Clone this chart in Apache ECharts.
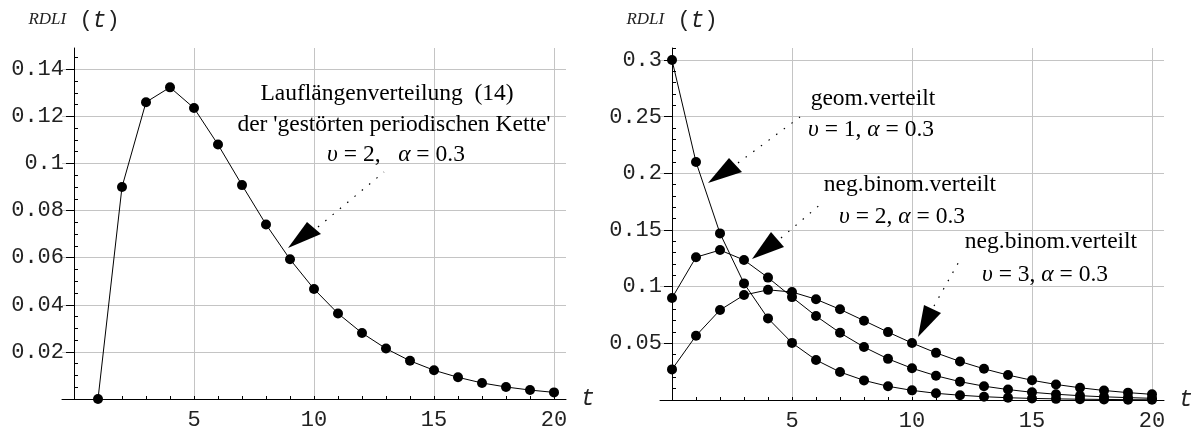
<!DOCTYPE html>
<html>
<head>
<meta charset="utf-8">
<script src="https://cdn.jsdelivr.net/npm/echarts@6/dist/echarts.min.js"></script>
<style>html,body{margin:0;padding:0;background:#fff}#c{width:1196px;height:428px}</style>
</head>
<body>
<div id="c"></div>
<script>
// ---- data ----
var tLeft = [1,2,3,4,5,6,7,8,9,10,11,12,13,14,15,16,17,18,19,20];
var rdliLeft = [0, 0.09, 0.126, 0.1323, 0.1235, 0.1080, 0.0908, 0.0741, 0.0593, 0.0467,
                0.0363, 0.0280, 0.0214, 0.0162, 0.0122, 0.0092, 0.0068, 0.0051, 0.0038, 0.0028];
var tRight = [0,1,2,3,4,5,6,7,8,9,10,11,12,13,14,15,16,17,18,19,20];
var geomV1 = [0.3, 0.21, 0.147, 0.1029, 0.0720, 0.0504, 0.0353, 0.0247, 0.0173, 0.0121, 0.0085,
              0.0059, 0.0042, 0.0029, 0.0020, 0.0014, 0.0010, 0.0007, 0.0005, 0.0003, 0.0002];
var negBinV2 = [0.09, 0.126, 0.1323, 0.1235, 0.1080, 0.0908, 0.0741, 0.0593, 0.0467, 0.0363, 0.0280,
                0.0214, 0.0162, 0.0122, 0.0092, 0.0068, 0.0051, 0.0038, 0.0028, 0.0021, 0.0015];
var negBinV3 = [0.027, 0.0567, 0.0794, 0.0926, 0.0972, 0.0953, 0.0889, 0.0800, 0.0700, 0.0599, 0.0503,
                0.0416, 0.0340, 0.0275, 0.0220, 0.0174, 0.0137, 0.0108, 0.0084, 0.0065, 0.0050];
var xTickLabels = [5, 10, 15, 20];
var yTickLabelsLeft = [0.02, 0.04, 0.06, 0.08, 0.1, 0.12, 0.14];
var yTickLabelsRight = [0.05, 0.1, 0.15, 0.2, 0.25, 0.3];

function pairs(xs, ys){ return xs.map(function(x,i){ return [x, ys[i]]; }); }
var intTicks = []; for (var k=1;k<=20;k++) intTicks.push(k);
var minorLeft = []; for (var k=1;k<=29;k++){ if (k%4) minorLeft.push(+(k*0.005).toFixed(3)); }
var minorRight = []; for (var k=1;k<=31;k++){ if (k%5) minorRight.push(+(k*0.01).toFixed(2)); }

var MONO = "'Liberation Mono', monospace";
var SERIF = "'Liberation Serif', 'Times New Roman', serif";
var XMIN = -0.5, XMAX = 20.5;   // plot range; y axis crosses at t = 0
var PX_PER_T = 24;              // grid width 504 / 21 units

function xAxes(grid){
  return [
    { gridIndex: grid, type:'value', min:XMIN, max:XMAX, position:'bottom',
      axisLine:{show:true, onZero:false, lineStyle:{color:'#000', width:1}},
      axisTick:{show:true, inside:true, length:3, customValues:intTicks, lineStyle:{color:'#000'}},
      axisLabel:{show:true, customValues:xTickLabels, margin:10, color:'#222', fontFamily:MONO, fontSize:22},
      splitLine:{show:false},
      name:'t', nameLocation:'end', nameGap:15, nameMoveOverlap:false,
      nameTextStyle:{fontFamily:MONO, fontStyle:'italic', fontSize:23, color:'#222', verticalAlign:'middle', align:'left'}
    },
    { gridIndex: grid, type:'value', min:XMIN, max:XMAX, position:'bottom',
      axisLine:{show:false, onZero:false},
      axisTick:{show:false, customValues:xTickLabels},
      axisLabel:{show:false},
      splitLine:{show:true, lineStyle:{color:'#c4c4c4', width:1}}
    }
  ];
}
function yAxes(grid, max, labels, minors){
  var off = XMIN * PX_PER_T; // shift axis from grid edge to t = 0
  return [
    { gridIndex: grid, type:'value', min:0, max:max, position:'left', offset:off,
      axisLine:{show:true, onZero:false, lineStyle:{color:'#000', width:1}},
      axisTick:{show:true, inside:false, length:8, customValues:labels, lineStyle:{color:'#000'}},
      axisLabel:{show:true, customValues:labels, margin:10, color:'#222', fontFamily:MONO, fontSize:22},
      splitLine:{show:true, lineStyle:{color:'#c4c4c4', width:1}},
      name:'{s|RDLI}{m| (}{t|t}{m|)}', nameLocation:'end', nameGap:16, nameMoveOverlap:false,
      nameTextStyle:{ align:'center', verticalAlign:'bottom',
        rich:{ s:{fontFamily:SERIF, fontStyle:'italic', fontSize:17, color:'#222', padding:[0,0,2,0]},
               m:{fontFamily:MONO, fontSize:22, color:'#222'},
               t:{fontFamily:MONO, fontStyle:'italic', fontSize:23, color:'#222'} } }
    },
    { gridIndex: grid, type:'value', min:0, max:max, position:'left', offset:off,
      axisLine:{show:false, onZero:false},
      axisTick:{show:true, inside:true, length:4, customValues:minors, lineStyle:{color:'#000'}},
      axisLabel:{show:false}, splitLine:{show:false}
    }
  ];
}
function lineSeries(xi, yi, data){
  return { type:'line', xAxisIndex:xi, yAxisIndex:yi, data:data, symbol:'circle', symbolSize:10,
    showAllSymbol:true, clip:false, itemStyle:{color:'#000'}, lineStyle:{color:'#000', width:1}, z:5, silent:true };
}

var chart = echarts.init(document.getElementById('c'), null, {renderer:'canvas'});

function txt(x, y, text, size){
  return { type:'text', x:x, y:y, z:10, silent:true,
    style:{ text:text, fill:'#000', font: size + 'px ' + SERIF, align:'center', verticalAlign:'middle',
      rich:{ i:{fontFamily:SERIF, fontStyle:'italic', fontSize:size, fill:'#000'},
             n:{fontFamily:SERIF, fontSize:size, fill:'#000'} } } };
}
function arrow(tip, c1, c2, from, to){
  return [
    { type:'line', z:10, silent:true, shape:{x1:from[0], y1:from[1], x2:to[0], y2:to[1]},
      style:{stroke:'#000', lineWidth:1.2, lineDash:[1.5, 8]} },
    { type:'polygon', z:10, silent:true, shape:{points:[tip, c1, c2]}, style:{fill:'#000'} }
  ];
}

var S = 23.5;
var graphics = [
  txt(387, 94, '{n|Lauflängenverteilung  (14)}', S),
  txt(394, 125, "{n|der 'gestörten periodischen Kette'}", S),
  txt(396, 155, '{i|υ}{n| = 2,   }{i|α}{n| = 0.3}', S),
  txt(873, 99, '{n|geom.verteilt}', S),
  txt(871, 130, '{i|υ}{n| = 1, }{i|α}{n| = 0.3}', S),
  txt(910, 185, '{n|neg.binom.verteilt}', S),
  txt(902, 217, '{i|υ}{n| = 2, }{i|α}{n| = 0.3}', S),
  txt(1051, 242, '{n|neg.binom.verteilt}', S),
  txt(1045, 275, '{i|υ}{n| = 3, }{i|α}{n| = 0.3}', S)
].concat(
  arrow([288,248],[307,222],[321,234],[318,227],[384,172]),
  arrow([708,183],[729,158],[742,172],[738,163],[800,117]),
  arrow([752,259],[771,232],[784,247],[781,238],[822,203]),
  arrow([918,337],[924,305],[941,313],[934,306],[961,258])
);

chart.setOption({
  animation:false,
  backgroundColor:'#fff',
  grid:[
    {left:62, top:48, width:504, height:351, containLabel:false, outerBoundsMode:'none'},
    {left:660, top:48, width:504, height:352, containLabel:false, outerBoundsMode:'none'}
  ],
  xAxis: xAxes(0).concat(xAxes(1)),
  yAxis: yAxes(0, 0.149, yTickLabelsLeft, minorLeft).concat(yAxes(1, 0.3106, yTickLabelsRight, minorRight)),
  series:[
    lineSeries(0, 0, pairs(tLeft, rdliLeft)),
    lineSeries(2, 2, pairs(tRight, geomV1)),
    lineSeries(2, 2, pairs(tRight, negBinV2)),
    lineSeries(2, 2, pairs(tRight, negBinV3))
  ],
  graphic: graphics
});
</script>
</body>
</html>
